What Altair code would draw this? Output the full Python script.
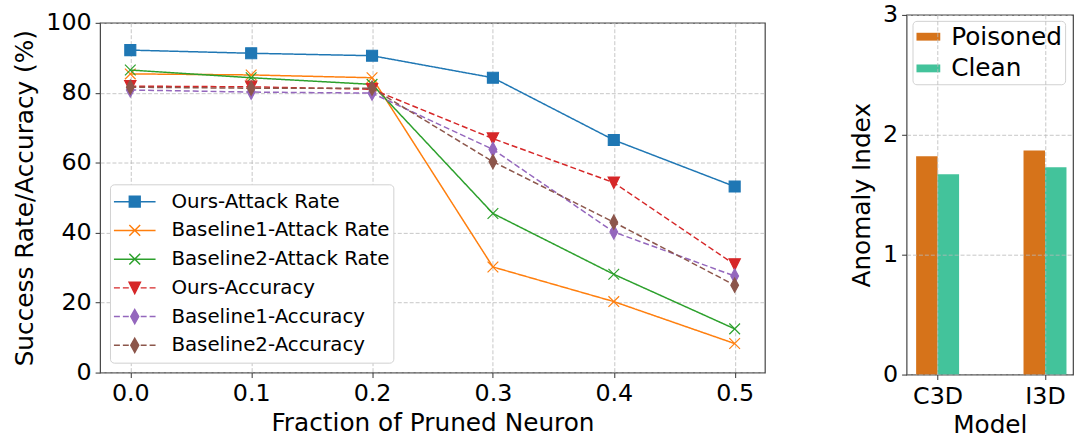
import altair as alt
import pandas as pd

# ---------------- data ----------------
fractions = [0.0, 0.1, 0.2, 0.3, 0.4, 0.5]
series_names = ["Ours-Attack Rate", "Baseline1-Attack Rate", "Baseline2-Attack Rate",
                "Ours-Accuracy", "Baseline1-Accuracy", "Baseline2-Accuracy"]
ours_attack = [92.2, 91.3, 90.6, 84.3, 66.5, 53.2]
base1_attack = [85.4, 85.1, 84.3, 30.2, 20.3, 8.3]
base2_attack = [86.5, 84.3, 82.4, 45.5, 28.1, 12.5]
ours_acc = [81.9, 81.7, 81.0, 66.9, 54.3, 30.9]
base1_acc = [80.8, 80.2, 79.9, 63.8, 40.2, 27.6]
base2_acc = [81.6, 81.3, 81.3, 60.3, 43.0, 25.0]

models = ["C3D", "I3D"]
groups = ["Poisoned", "Clean"]
poisoned_vals = [1.82, 1.87]
clean_vals = [1.67, 1.73]

# ---------------- styles ----------------
colors = ["#1f77b4", "#ff7f0e", "#2ca02c", "#d62728", "#9467bd", "#8c564b"]
dashes = [[1, 0], [1, 0], [1, 0], [6, 3], [6, 3], [6, 3]]
SQ = "M-0.92,-0.92L0.92,-0.92L0.92,0.92L-0.92,0.92Z"
XM = "M-0.9,-0.9L0.9,0.9M-0.9,0.9L0.9,-0.9"
TD = "M-0.95,-0.95L0.95,-0.95L0,0.95Z"
TD2 = "M0,-1.2L0.65,0L0,1.2L-0.65,0Z"
marker_paths = [SQ, XM, XM, TD, TD2, TD2]

SOLID = "M-1,0L1,0"
DASH = "M-1,0L-0.714,0M-0.571,0L-0.286,0M0.286,0L0.571,0M0.714,0L1,0"
legend_paths = [
    SOLID + "M-0.26,-0.26L0.26,-0.26L0.26,0.26L-0.26,0.26Z",
    SOLID + "M-0.26,-0.26L0.26,0.26M-0.26,0.26L0.26,-0.26",
    SOLID + "M-0.26,-0.26L0.26,0.26M-0.26,0.26L0.26,-0.26",
    DASH + "M-0.27,-0.27L0.27,-0.27L0,0.27Z",
    DASH + "M0,-0.34L0.19,0L0,0.34L-0.19,0Z",
    DASH + "M0,-0.34L0.19,0L0,0.34L-0.19,0Z",
]
bar_colors = ["#d6731a", "#43c39b"]

FONT = "DejaVu Sans"

all_vals = [ours_attack, base1_attack, base2_attack, ours_acc, base1_acc, base2_acc]
df = pd.DataFrame({
    "fraction": [f for _ in series_names for f in fractions],
    "value": [v for vals in all_vals for v in vals],
    "series": [s for s in series_names for _ in fractions],
})

bar_df = pd.DataFrame({
    "model": models + models,
    "group": [groups[0]] * len(models) + [groups[1]] * len(models),
    "value": poisoned_vals + clean_vals,
})

INDEP = dict(color="independent", fill="independent", stroke="independent",
             shape="independent", strokeDash="independent")

# ---------------- left chart ----------------
xq = alt.X("fraction:Q",
           scale=alt.Scale(domain=[-0.025, 0.525], nice=False, zero=False),
           axis=alt.Axis(values=fractions, format=".1f", title="Fraction of Pruned Neuron",
                         labelFlush=False, labelPadding=4, titlePadding=5))
yq = alt.Y("value:Q",
           scale=alt.Scale(domain=[0, 100], nice=False),
           axis=alt.Axis(values=[0, 20, 40, 60, 80, 100], title="Success Rate/Accuracy (%)",
                         labelPadding=4, titlePadding=8))

stroke_scale = alt.Scale(domain=series_names, range=colors)

leg = alt.Legend(title=None, orient="bottom-left", offset=10, padding=3,
                 labelFontSize=20, labelFont=FONT, labelColor="black", labelLimit=500,
                 symbolSize=1764, symbolStrokeWidth=1.5, labelOffset=15,
                 fillColor="white", strokeColor="#d0d0d0", cornerRadius=4,
                 clipHeight=29, rowPadding=0, symbolOpacity=1)

base = alt.Chart(df)
layers = []
for s, path, dash in zip(series_names, marker_paths, dashes):
    sub = base.transform_filter(alt.datum.series == s)
    layers.append(
        sub.mark_line(strokeWidth=1.5, strokeDash=dash).encode(
            x=xq, y=yq,
            stroke=alt.Stroke("series:N", scale=stroke_scale),
        )
    )
    layers.append(
        sub.mark_point(filled=True, shape=path, size=144, strokeWidth=1.2, opacity=1).encode(
            x=xq, y=yq,
            fill=alt.Fill("series:N", scale=stroke_scale),
            stroke=alt.Stroke("series:N", scale=stroke_scale),
        )
    )

legend_layer = base.mark_point(filled=True, opacity=0).encode(
    x=xq, y=yq,
    fill=alt.Fill("series:N", scale=stroke_scale, legend=leg),
    stroke=alt.Stroke("series:N", scale=stroke_scale, legend=leg),
    shape=alt.Shape("series:N", scale=alt.Scale(domain=series_names, range=legend_paths), legend=leg),
)

left = alt.layer(*layers, legend_layer).properties(width=671, height=353)

spacer = alt.Chart(pd.DataFrame({"v": [0]})).mark_point(opacity=0).encode(
    x=alt.value(0), y=alt.value(0)
).properties(width=1, height=8, view=alt.ViewBackground(strokeOpacity=0))

left_col = alt.vconcat(spacer, left, spacing=-13).resolve_scale(**INDEP).resolve_legend(**INDEP)

# ---------------- right chart ----------------
bars = alt.Chart(bar_df).transform_calculate(
    x0="indexof(" + str(models) + ", datum.model) + (datum.group == '" + groups[0] + "' ? -0.2 : 0)"
).transform_calculate(
    x1="datum.x0 + 0.2"
).mark_bar().encode(
    x=alt.X("x0:Q", scale=alt.Scale(domain=[-0.289, 1.261], nice=False, zero=False),
            axis=alt.Axis(values=[0, 1], labelExpr="datum.value == 0 ? 'C3D' : 'I3D'",
                          title="Model", labelFlush=False, zindex=1,
                          labelPadding=5, titlePadding=4)),
    x2="x1:Q",
    y=alt.Y("value:Q", scale=alt.Scale(domain=[0, 3], nice=False),
            axis=alt.Axis(values=[0, 1, 2, 3], format="d", title="Anomaly Index", zindex=1,
                          labelPadding=4, titlePadding=8)),
    y2=alt.datum(0),
    color=alt.Color("group:N", scale=alt.Scale(domain=groups, range=bar_colors),
                    legend=alt.Legend(title=None, orient="top-left", offset=6, padding=3,
                                      labelFontSize=25, labelFont=FONT, labelColor="black",
                                      symbolType="M-1,-0.33L1,-0.33L1,0.33L-1,0.33Z",
                                      symbolSize=576, labelOffset=10,
                                      fillColor="white", strokeColor="#d0d0d0",
                                      cornerRadius=4, rowPadding=6)),
).properties(width=168, height=363)

chart = alt.hconcat(left_col, bars, spacing=84).resolve_scale(**INDEP).resolve_legend(**INDEP).properties(
    padding={"left": 12, "top": 0, "right": 2, "bottom": 0}
).configure_view(
    stroke="#444444", strokeWidth=1.2
).configure_axis(
    labelFontSize=24, titleFontSize=25, labelFont=FONT, titleFont=FONT,
    titleFontWeight="normal", labelColor="black", titleColor="black",
    tickColor="#333333", tickSize=5, domain=False,
    gridColor="#b8b8b8", gridDash=[4, 2], gridWidth=0.8,
).configure_title(font=FONT)

chart.save("out.html", embed_options={"renderer": "svg", "actions": False})
